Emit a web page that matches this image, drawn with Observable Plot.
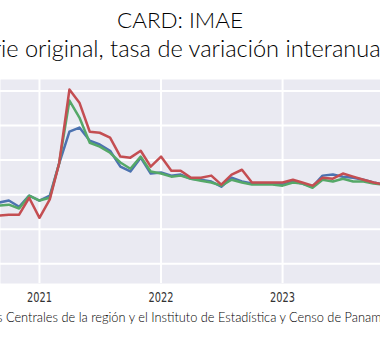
<!DOCTYPE html>
<html><head><meta charset="utf-8">
<script src="https://cdn.jsdelivr.net/npm/d3@7"></script>
<script src="https://cdn.jsdelivr.net/npm/@observablehq/plot@0.6"></script>
<style>
html,body{margin:0;padding:0;background:#fff;}
#wrap{position:relative;width:380px;height:352px;overflow:hidden;}
#chart{position:absolute;left:0;top:79px;}
#txt{position:absolute;left:0;top:0;}
</style></head><body>
<div id="wrap"><div id="chart"></div><svg id="txt" width="380" height="352"></svg></div>
<script>
const titleText = "CARD: IMAE";
const subtitleText = "Serie original, tasa de variación interanual";
const captionText = "Fuente: Bancos Centrales de la región y el Instituto de Estadística y Censo de Panamá";

const months = [
 "2020-09","2020-10","2020-11","2020-12",
 "2021-01","2021-02","2021-03","2021-04","2021-05","2021-06","2021-07","2021-08","2021-09","2021-10","2021-11","2021-12",
 "2022-01","2022-02","2022-03","2022-04","2022-05","2022-06","2022-07","2022-08","2022-09","2022-10","2022-11","2022-12",
 "2023-01","2023-02","2023-03","2023-04","2023-05","2023-06","2023-07","2023-08","2023-09","2023-10","2023-11"];
const seriesNames = ["Serie A","Serie B","Serie C"];
const blueValues = [-2.3,-1.7,-3.5,-0.3, -1.7,-0.3,9.0,18.2,19.4,15.6,14.5,12.7,8.1,6.7,10.7,6.1, 6.4,5.5,5.8,4.6,4.3,3.8,2.3,4.9,3.8,3.2,3.2,3.2, 2.9,3.8,3.2,2.3,5.5,5.8,5.2,4.9,4.3,3.5,2.9];
const greenValues = [-3.2,-2.9,-4.0,-0.3, -1.7,-0.9,9.0,27.2,22.3,15.0,13.9,12.1,9.3,7.5,11.0,6.7, 6.1,5.2,5.5,4.6,4.0,3.5,2.6,4.3,3.5,2.9,2.9,2.9, 2.6,3.5,3.2,2.0,4.3,3.8,4.6,3.8,3.8,3.2,2.9];
const redValues = [-6.1,-5.8,-5.8,-0.9, -6.7,-1.4,9.0,30.4,26.6,18.2,17.9,16.5,11.0,10.7,12.7,8.1, 11.0,6.9,6.9,4.9,4.9,5.5,2.9,5.8,7.2,3.5,3.5,3.5, 3.5,4.3,3.5,2.6,4.9,4.6,6.1,5.2,4.3,3.5,2.9];
const xTickLabels = ["2021","2022","2023"];
const yGridValues = [-20,-10,0,10,20,30];

const allValues = [blueValues, greenValues, redValues];
const data = [];
seriesNames.forEach((s, i) => months.forEach((m, j) => data.push({date: new Date(m + "-01T00:00:00Z"), value: allValues[i][j], series: s})));
const yearTicks = xTickLabels.map(y => new Date(y + "-01-01T00:00:00Z"));

const plot = Plot.plot({
  width: 380, height: 230,
  marginTop: 0, marginBottom: 26, marginLeft: 0, marginRight: 0,
  style: {background: "transparent"},
  x: {type: "utc", domain: [new Date("2020-09-06T00:00:00Z"), new Date("2023-10-22T00:00:00Z")], axis: null},
  y: {domain: [-25.7, 33.3], axis: null},
  color: {domain: seriesNames, range: ["#4c72b0", "#55a868", "#c44e52"]},
  marks: [
    Plot.frame({fill: "#eaeaf2", stroke: null}),
    Plot.gridY(yGridValues, {stroke: "#fff", strokeOpacity: 1, strokeWidth: 2}),
    Plot.gridX(yearTicks, {stroke: "#fff", strokeOpacity: 1, strokeWidth: 2}),
    Plot.line(data, {x: "date", y: "value", z: "series", stroke: "series", strokeWidth: 2.5, clip: true}),
    Plot.axisX(yearTicks, {tickSize: 0, tickPadding: 9, tickFormat: d => xTickLabels[yearTicks.findIndex(t => +t === +d)], fontSize: 14, fontFamily: "Liberation Sans Narrow, DejaVu Sans Condensed, sans-serif", fill: "#333", label: null})
  ]
});
document.getElementById("chart").appendChild(plot);
d3.select(plot).selectAll("g[aria-label='x-axis tick label'] text").each(function() {
  const tr = this.getAttribute("transform") || "";
  this.setAttribute("transform", tr + " scale(0.78,1)");
});

const svg = d3.select("#txt");
function fitText(full, start, len, x0, x1, baseline) {
  const t = svg.append("text").text(full).attr("font-family", "Lato, sans-serif").attr("font-weight", 300).attr("fill", "#000").attr("font-size", 100).attr("y", baseline);
  const n = t.node();
  const w = n.getSubStringLength(start, len);
  const off = start > 0 ? n.getSubStringLength(0, start) : 0;
  const size = 100 * (x1 - x0) / w;
  t.attr("font-size", size).attr("x", x0 - off * size / 100);
}
fitText(titleText, 0, titleText.length, 117, 243, 28);
fitText(subtitleText, 3, subtitleText.length - 4, 1, 381, 57);
const ci = captionText.indexOf("Centrales");
fitText(captionText, ci, captionText.length - 1 - ci, 6, 382, 322);
</script>
</body></html>
